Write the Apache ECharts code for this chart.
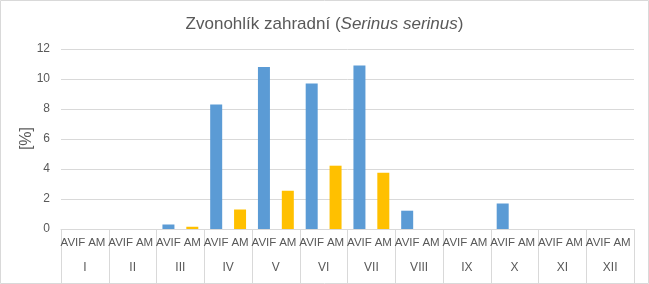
<!DOCTYPE html>
<html>
<head>
<meta charset="utf-8">
<script src="https://cdn.jsdelivr.net/npm/echarts@6/dist/echarts.min.js"></script>
<style>
html,body{margin:0;padding:0;background:#fff;}
#c{width:649px;height:284px;}
</style>
</head>
<body>
<div id="c"></div>
<script>
const months = ['I','II','III','IV','V','VI','VII','VIII','IX','X','XI','XII'];
const subLabels = ['AVIF','AM'];
const avif = [0, 0, 0.3, 8.3, 10.8, 9.7, 10.9, 1.22, 0, 1.7, 0, 0];
const am   = [0, 0, 0.15, 1.3, 2.55, 4.22, 3.75, 0, 0, 0, 0, 0];
const yTicks = {min: 0, max: 12, interval: 2};

const slots = [];
const avifData = [];
const amData = [];
months.forEach((m, i) => {
  slots.push(subLabels[0]); avifData.push(avif[i]); amData.push(null);
  slots.push(subLabels[1]); avifData.push(null); amData.push(am[i]);
});

const FONT = 'Liberation Sans';
const chart = echarts.init(document.getElementById('c'));
chart.setOption({
  animation: false,
  textStyle: {fontFamily: FONT},
  title: {
    text: '{n|Zvonohlík zahradní (}{i|Serinus serinus}{n|)}',
    left: 'center', top: 11,
    textStyle: {
      fontWeight: 'normal',
      rich: {
        n: {fontSize: 17, color: '#595959', fontFamily: FONT, fontWeight: 'normal'},
        i: {fontSize: 17, color: '#595959', fontFamily: FONT, fontWeight: 'normal', fontStyle: 'italic'}
      }
    }
  },
  graphic: [
    {type: 'rect', shape: {x: 0.5, y: 0.5, width: 648, height: 283}, style: {fill: 'none', stroke: '#d9d9d9', lineWidth: 1}, silent: true},
    {type: 'text', left: 19, top: 127, rotation: Math.PI / 2, style: {text: '[%]', fontSize: 16, fill: '#595959', fontFamily: FONT}}
  ],
  grid: {left: 61, right: 15, top: 49, bottom: 55},
  xAxis: [
    {
      type: 'category', data: slots,
      axisLine: {lineStyle: {color: '#d9d9d9'}},
      axisTick: {show: false},
      axisLabel: {interval: 0, color: '#595959', fontSize: 11.5, margin: 8}
    },
    {
      type: 'category', data: months, position: 'bottom',
      axisLine: {show: false},
      axisTick: {show: true, length: 54, interval: 0, lineStyle: {color: '#d9d9d9'}},
      axisLabel: {interval: 0, color: '#595959', fontSize: 12, margin: 33}
    }
  ],
  yAxis: {
    type: 'value', min: yTicks.min, max: yTicks.max, interval: yTicks.interval,
    axisLine: {show: false}, axisTick: {show: false},
    axisLabel: {color: '#595959', fontSize: 12, margin: 11},
    splitLine: {lineStyle: {color: '#d9d9d9'}}
  },
  series: [
    {name: 'AVIF', type: 'bar', data: avifData, barWidth: 12, barGap: '-100%', itemStyle: {color: '#5b9bd5'}},
    {name: 'AM', type: 'bar', data: amData, barWidth: 12, barGap: '-100%', itemStyle: {color: '#ffc000'}}
  ]
});
</script>
</body>
</html>
